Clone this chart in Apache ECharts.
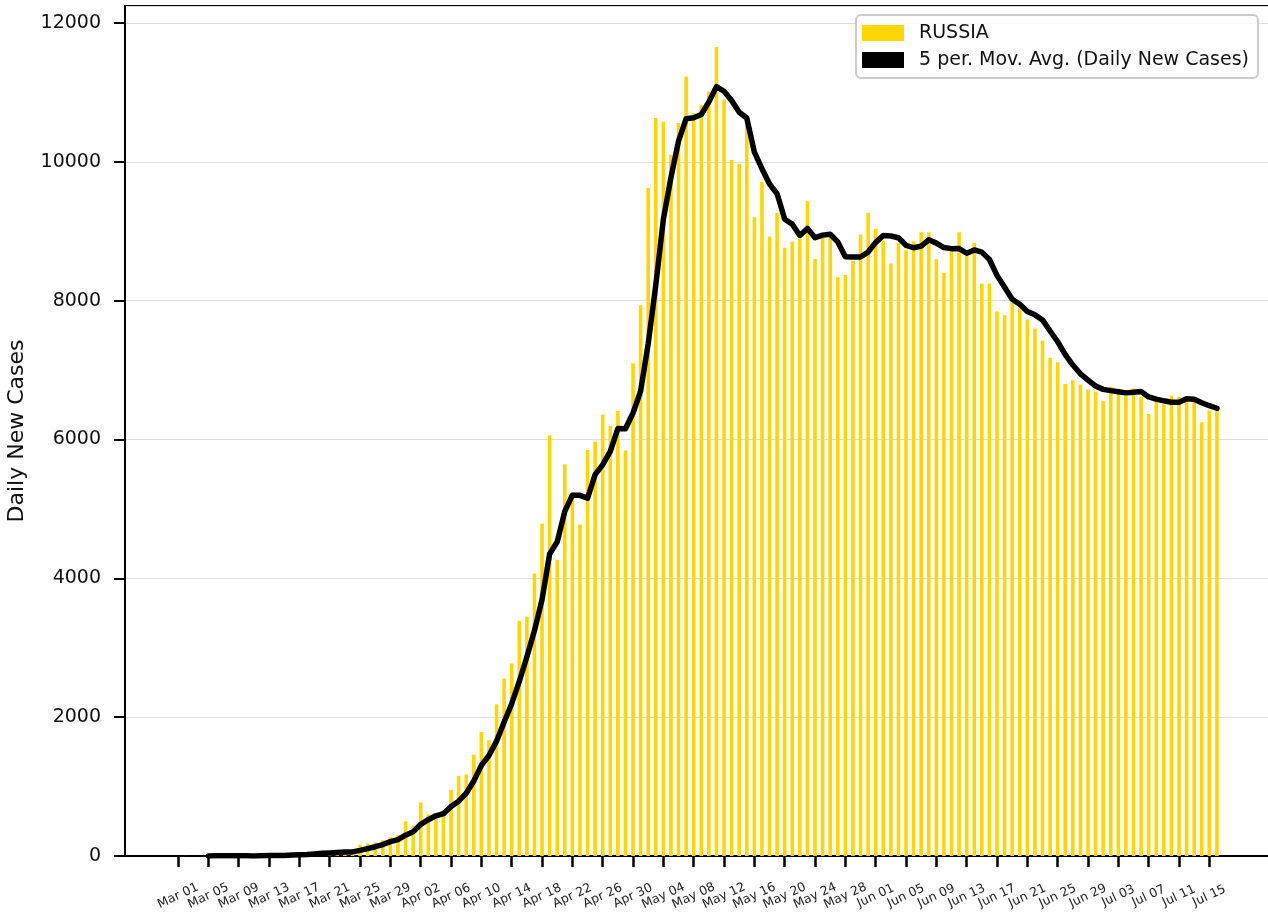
<!DOCTYPE html>
<html>
<head>
<meta charset="utf-8">
<script src="https://cdn.jsdelivr.net/npm/echarts@6/dist/echarts.min.js"></script>
<style>
  html, body { margin: 0; padding: 0; background: #fff; }
  #chart { width: 1268px; height: 923px; }
</style>
</head>
<body>
<div id="chart"></div>
<script>
// daily new cases, Russia, 2020
const marCases = [0, 1, 0, 0, 1, 9, 0, 4, 0, 3, 0, 8, 17, 14, 4, 27, 24, 33, 52, 54,
  53, 61, 71, 57, 163, 182, 196, 228, 270, 302, 501];
const aprCases = [440, 771, 601, 582, 658, 954, 1154, 1175, 1459, 1786,
  1667, 2186, 2558, 2774, 3388, 3448, 4070, 4785, 6060, 4268,
  5642, 5236, 4774, 5849, 5966, 6361, 6198, 6411, 5841, 7099];
const mayCases = [7933, 9623, 10633, 10581, 10102, 10559, 11231, 10699, 10817, 11012,
  11656, 10899, 10028, 9974, 10598, 9200, 9709, 8926, 9263, 8764,
  8849, 8894, 9434, 8599, 8946, 8915, 8338, 8371, 8572, 8952, 9268];
const junCases = [9035, 8863, 8536, 8831, 8726, 8855, 8984, 8985, 8595, 8404,
  8779, 8987, 8650, 8835, 8246, 8248, 7843, 7790, 7972, 7889,
  7728, 7600, 7425, 7176, 7113, 6800, 6852, 6791, 6719, 6693];
const julCases = [6556, 6760, 6718, 6632, 6736, 6611, 6368, 6562, 6509, 6635,
  6611, 6615, 6537, 6248, 6422, 6428];

const seriesNames = ['RUSSIA', '5 per. Mov. Avg. (Daily New Cases)'];
const yTicks = [0, 2000, 4000, 6000, 8000, 10000, 12000];

const firstDay = new Date(Date.UTC(2020, 2, 1));   // Mar 01
const padDays = 7;                                  // empty days either side (axis margin)
const tickStep = 4;
const lastTick = 'Jul 15';
const maWindow = 5;

const daily = [].concat(marCases, aprCases, mayCases, junCases, julCases);
const monthNames = ['Jan', 'Feb', 'Mar', 'Apr', 'May', 'Jun', 'Jul', 'Aug'];

function fmt(d) {
  const dd = d.getUTCDate();
  return monthNames[d.getUTCMonth()] + ' ' + (dd < 10 ? '0' : '') + dd;
}

// category days from first-pad to last+pad
let cats = [];
let bars = [];
let avg = [];
const total = daily.length + 2 * padDays;
for (let i = 0; i < total; i++) {
  const d = new Date(firstDay.getTime() + (i - padDays) * 86400000);
  cats.push(fmt(d));
  const k = i - padDays;
  if (k >= 0 && k < daily.length) {
    bars.push(daily[k]);
    if (k >= maWindow - 1) {
      let s = 0;
      for (let j = k - maWindow + 1; j <= k; j++) s += daily[j];
      avg.push(s / maWindow);
    } else {
      avg.push(null);
    }
  } else {
    bars.push(null);
    avg.push(null);
  }
}

const lastTickIdx = cats.indexOf(lastTick);
function showTick(idx) {
  const k = idx - padDays;
  return k >= 0 && idx <= lastTickIdx && k % tickStep === 0;
}

let myChart = echarts.init(document.getElementById('chart'));
myChart.setOption({
  animation: false,
  textStyle: { fontFamily: 'DejaVu Sans' },
  grid: {
    left: 125, top: 6, right: -2, bottom: 67,
    outerBoundsMode: 'none',
    show: true, borderColor: '#000', borderWidth: 2
  },
  legend: {
    left: 856, top: 15,
    orient: 'vertical',
    padding: [8, 9, 8, 6],
    itemWidth: 42, itemHeight: 16, itemGap: 7,
    borderColor: '#cccccc', borderWidth: 2, borderRadius: 5,
    backgroundColor: 'rgba(255,255,255,0.85)',
    textStyle: { fontSize: 19, color: '#111', lineHeight: 20, padding: [0, 0, 0, 10] },
    data: [
      { name: seriesNames[0], icon: 'rect' },
      { name: seriesNames[1], icon: 'rect', itemStyle: { color: '#000' } }
    ]
  },
  xAxis: {
    type: 'category',
    data: cats,
    boundaryGap: false,
    axisLine: { lineStyle: { color: '#000', width: 2 } },
    axisTick: { interval: showTick, length: 11, lineStyle: { color: '#000', width: 2.5 } },
    axisLabel: {
      interval: 0,
      hideOverlap: false,
      formatter: function (value, idx) { return showTick(idx) ? value : ''; },
      rotate: 25,
      align: 'center',
      verticalAlign: 'middle',
      margin: 40,
      fontSize: 12.5,
      color: '#222'
    },
    splitLine: { show: false }
  },
  yAxis: {
    type: 'value',
    min: 0,
    max: 12245,
    interval: 2000,
    name: 'Daily New Cases',
    nameLocation: 'middle',
    nameRotate: 90,
    nameGap: 97,
    nameTextStyle: { fontSize: 22, color: '#111' },
    axisLine: { show: true, lineStyle: { color: '#000', width: 2 } },
    axisTick: { show: true, length: 11, lineStyle: { color: '#000', width: 2 } },
    axisLabel: {
      showMaxLabel: false,
      margin: 24,
      fontSize: 19,
      color: '#111',
      formatter: function (v) { return yTicks.indexOf(v) >= 0 ? String(v) : ''; }
    },
    splitLine: { lineStyle: { color: '#dddddd', width: 1 } }
  },
  series: [
    {
      name: seriesNames[0],
      type: 'bar',
      data: bars,
      barWidth: 3.6,
      itemStyle: { color: '#FFD700' }
    },
    {
      name: seriesNames[1],
      type: 'line',
      data: avg,
      showSymbol: false,
      symbol: 'none',
      lineStyle: { color: '#000', width: 5.5, join: 'round', cap: 'round' },
      itemStyle: { color: '#000' },
      z: 3
    }
  ]
});
</script>
</body>
</html>
